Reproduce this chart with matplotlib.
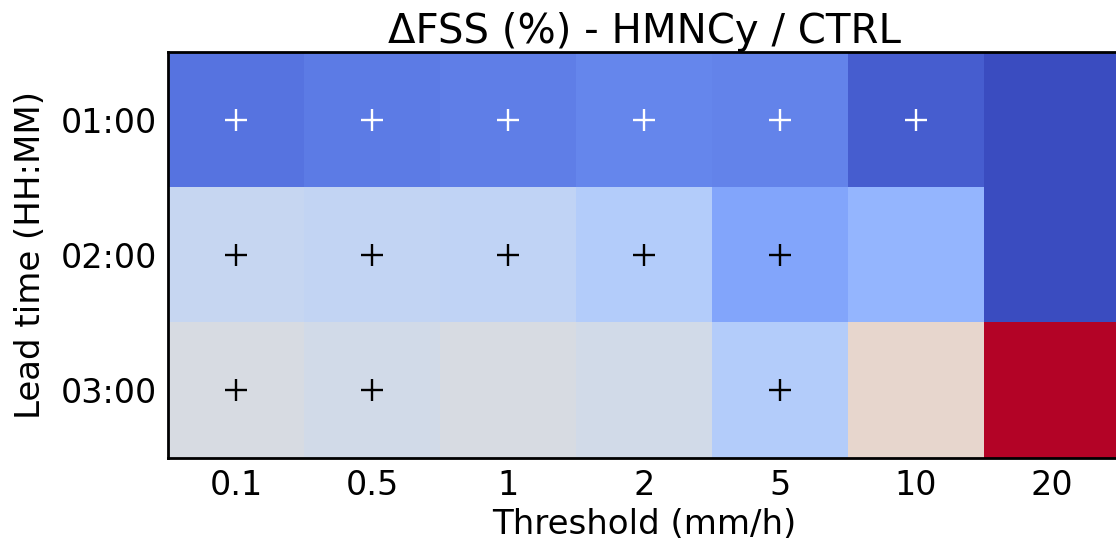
import numpy as np
import matplotlib
matplotlib.use('Agg')
import matplotlib.pyplot as plt

# delta FSS (%) of HMNCy relative to CTRL, rows = lead time, cols = threshold
thresholds = ['0.1', '0.5', '1', '2', '5', '10', '20']
lead_times = ['01:00', '02:00', '03:00']
dfss = np.array([
    [-8.2, -7.8, -7.6, -7.2, -7.4, -9.2, -15.0],
    [-1.6, -1.8, -2.0, -2.8, -5.6, -4.6, -15.0],
    [-0.4, -0.8, -0.4, -0.8, -2.8, 0.8, 12.0],
])
# significance flags
signif = np.array([
    [1, 1, 1, 1, 1, 1, 0],
    [1, 1, 1, 1, 1, 0, 0],
    [1, 1, 0, 0, 1, 0, 0],
])

fig = plt.figure(figsize=(11.16, 5.46), dpi=100)
ax = fig.add_axes([168 / 1116, 1 - 458 / 546, 952 / 1116, 406 / 546])

ax.imshow(dfss, cmap='coolwarm', vmin=-10, vmax=10, aspect='auto')

for i in range(dfss.shape[0]):
    for j in range(dfss.shape[1]):
        if signif[i, j]:
            col = 'white' if i == 0 else 'black'
            ax.scatter(j, i, marker='+', s=260, linewidths=1.7, color=col)

ax.set_xticks(np.arange(len(thresholds)))
ax.set_xticklabels(thresholds)
ax.set_yticks(np.arange(len(lead_times)))
ax.set_yticklabels(lead_times)
ax.tick_params(length=0, labelsize=24, pad=8)
ax.set_xlim(-0.5, len(thresholds) - 0.5)
ax.set_ylim(len(lead_times) - 0.5, -0.5)
for sp in ax.spines.values():
    sp.set_linewidth(2)

ax.set_xlabel('Threshold (mm/h)', fontsize=24.5, labelpad=4)
ax.set_ylabel('Lead time (HH:MM)', fontsize=24.5, labelpad=10)
ax.set_title('\u0394FSS (%) - HMNCy / CTRL', fontsize=29, pad=5)

fig.savefig('out.png', dpi=100)
